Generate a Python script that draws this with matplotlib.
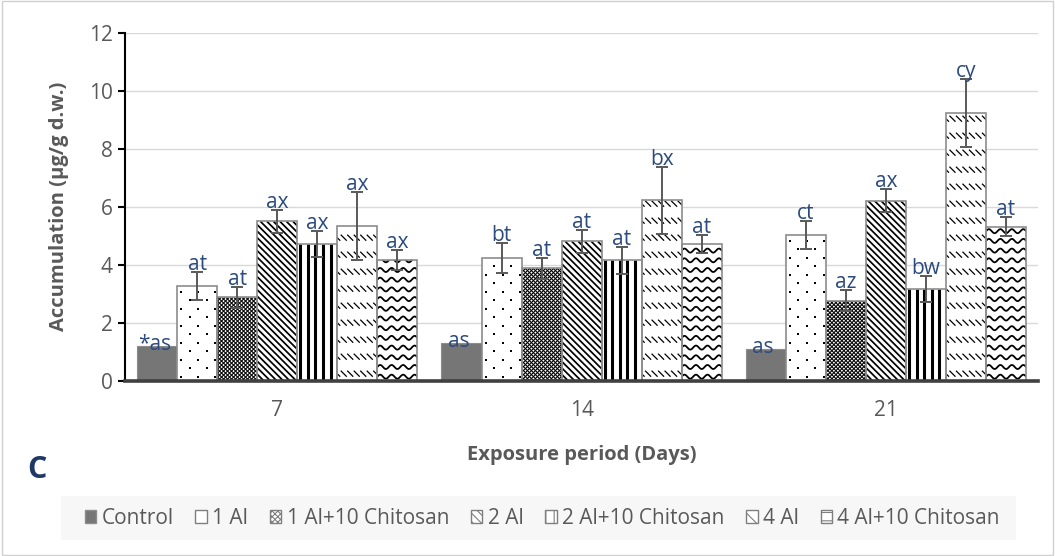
import numpy as np
import matplotlib
matplotlib.use('Agg')
import matplotlib.pyplot as plt
from matplotlib.patches import Rectangle, Patch
from matplotlib.collections import LineCollection
from matplotlib.transforms import IdentityTransform

plt.rcParams['font.family'] = ['Open Sans', 'DejaVu Sans']

# data
days = ['7', '14', '21']
groups = ['Control', '1 Al', '1 Al+10 Chitosan', '2 Al', '2 Al+10 Chitosan', '4 Al', '4 Al+10 Chitosan']

control = [1.21, 1.30, 1.11]
al1 = [3.26, 4.24, 5.03]
al1_chi = [2.87, 3.87, 2.76]
al2 = [5.49, 4.80, 6.21]
al2_chi = [4.71, 4.15, 3.16]
al4 = [5.34, 6.22, 9.22]
al4_chi = [4.16, 4.71, 5.31]

err_control = [0.0, 0.0, 0.0]
err_al1 = [0.48, 0.52, 0.49]
err_al1_chi = [0.35, 0.36, 0.37]
err_al2 = [0.41, 0.40, 0.41]
err_al2_chi = [0.46, 0.46, 0.45]
err_al4 = [1.17, 1.16, 1.17]
err_al4_chi = [0.34, 0.32, 0.33]

lab_control = ['*as', 'as', 'as']
lab_al1 = ['at', 'bt', 'ct']
lab_al1_chi = ['at', 'at', 'az']
lab_al2 = ['ax', 'at', 'ax']
lab_al2_chi = ['ax', 'at', 'bw']
lab_al4 = ['ax', 'bx', 'cy']
lab_al4_chi = ['ax', 'at', 'at']

values = [control, al1, al1_chi, al2, al2_chi, al4, al4_chi]
errors = [err_control, err_al1, err_al1_chi, err_al2, err_al2_chi, err_al4, err_al4_chi]
letters = [lab_control, lab_al1, lab_al1_chi, lab_al2, lab_al2_chi, lab_al4, lab_al4_chi]
textures = ['solid', 'dots', 'checker', 'diag', 'vert', 'dashdiag', 'wave']
legend_hatch = [None, None, 'xxxxxx', '\\\\\\\\', '||', '\\\\', '--']

grey = '#595959'
label_blue = '#2B4A7E'

fig = plt.figure(figsize=(10.55, 5.56), dpi=100)
fig.patches.append(Rectangle((0.002, 0.002), 0.996, 0.996, transform=fig.transFigure,
                             facecolor='none', edgecolor='#D0D0D0', lw=1.0))
fig.patches.append(Rectangle((0.0578, 0.029), 0.905, 0.079, transform=fig.transFigure,
                             facecolor='#F7F7F7', edgecolor='none'))
ax = fig.add_axes([0.1185, 0.3153, 0.8655, 0.6259])

x = np.arange(len(days))
width = 0.1315
ax.set_xlim(-0.5, 2.5)
ax.set_ylim(0, 12)


def px_box(bar):
    (x0, y0), (x1, y1) = ax.transData.transform(
        [(bar.get_x(), bar.get_y()),
         (bar.get_x() + bar.get_width(), bar.get_y() + bar.get_height())])
    return x0, y0, x1, y1


def add_lines(segs, bar, lw):
    lc = LineCollection(segs, colors='black', linewidths=lw,
                        transform=IdentityTransform(), zorder=2.1)
    ax.add_collection(lc, autolim=False)
    lc.set_clip_path(bar)


def diag_segs(x0, y0, x1, y1, step):
    segs = []
    for c in np.arange(x0 + y0, x1 + y1 + step, step):
        segs.append([(c - y0, y0), (c - y1, y1)])
    return segs


def texture(bar, kind):
    x0, y0, x1, y1 = px_box(bar)
    if kind == 'dots':
        pts = []
        for j, yy in enumerate(np.arange(y0 + 4, y1, 8.5)):
            off = 0 if j % 2 == 0 else 8.5
            for xx in np.arange(x0 + 4 + off, x1, 17):
                pts.append((xx, yy))
        pts = np.array(pts)
        sc = ax.scatter(pts[:, 0], pts[:, 1], s=3.5, marker='s', color='black',
                        linewidths=0, transform=IdentityTransform(), zorder=2.1)
        sc.set_clip_path(bar)
    elif kind == 'checker':
        segs = diag_segs(x0, y0, x1, y1, 4.0)
        for c in np.arange(x0 - y1, x1 - y0 + 4.0, 4.0):
            segs.append([(c + y0, y0), (c + y1, y1)])
        add_lines(segs, bar, 0.8)
    elif kind == 'diag':
        add_lines(diag_segs(x0, y0, x1, y1, 6.5), bar, 1.25)
    elif kind == 'vert':
        segs = [[(xx, y0), (xx, y1)] for xx in np.arange(x0 + 3, x1, 7.6)]
        add_lines(segs, bar, 2.2)
    elif kind == 'dashdiag':
        segs = []
        for yb in np.arange(y0 + 4, y1, 17):
            yt = min(yb + 6, y1)
            for c in np.arange(x0 + yb - 10, x1 + yt + 10, 6.5):
                segs.append([(c - yb, yb), (c - yt, yt)])
        add_lines(segs, bar, 0.9)
    elif kind == 'wave':
        xs = np.linspace(x0 - 2, x1 + 2, 200)
        segs = []
        for yy in np.arange(y0 + 4, y1 + 5, 9.7):
            segs.append(np.column_stack([xs, yy + 2.0 * np.sin(2 * np.pi * (xs - x0) / 11.5)]))
        add_lines(segs, bar, 1.3)


for i, (vals, errs, labs, kind) in enumerate(zip(values, errors, letters, textures)):
    pos = x + (i - 3) * width
    if kind == 'solid':
        bars = ax.bar(pos, vals, width, color='#767676', edgecolor='#8C8C8C', lw=0.8, zorder=2)
    else:
        bars = ax.bar(pos, vals, width, color='white', edgecolor='none', zorder=2)
        for b in bars:
            texture(b, kind)
        ax.bar(pos, vals, width, facecolor='none', edgecolor='#8C8C8C', lw=1.2, zorder=2.2)
        ax.errorbar(pos, vals, yerr=errs, fmt='none', ecolor=grey, elinewidth=1.4,
                    capsize=4.5, capthick=1.4, zorder=3)
    for p, v, e, t in zip(pos, vals, errs, labs):
        if kind == 'solid':
            ax.annotate(t, (p, v), xytext=(-2, -3), textcoords='offset points',
                        ha='center', va='baseline', color=label_blue, fontsize=15, zorder=4)
        else:
            ax.annotate(t, (p, v + e), xytext=(0, 1.5), textcoords='offset points',
                        ha='center', va='baseline', color=label_blue, fontsize=15, zorder=4)

ax.set_yticks(np.arange(0, 13, 2))
ax.set_xticks(x)
ax.set_xticklabels(days)
ax.grid(axis='y', color='#D9D9D9', lw=1.0, zorder=0)
ax.set_axisbelow(True)
for s in ['top', 'right']:
    ax.spines[s].set_visible(False)
ax.spines['left'].set_color('black')
ax.spines['left'].set_linewidth(1.5)
ax.spines['bottom'].set_color('#404040')
ax.spines['bottom'].set_linewidth(2.6)
ax.tick_params(axis='y', length=5, width=1.5, color='black', labelcolor=grey, labelsize=15, pad=4)
ax.tick_params(axis='x', length=0, labelcolor=grey, labelsize=15, pad=14)
ax.set_xlabel('Exposure period (Days)', fontsize=14.5, fontweight='bold', color=grey, labelpad=17)
ax.set_ylabel('Accumulation (µg/g d.w.)', fontsize=14.5, fontweight='bold', color=grey, labelpad=14)

fig.text(0.026, 0.128, 'C', fontsize=22, fontweight='bold', color='#1F3864', va='bottom')

handles = []
for name, kind, h in zip(groups, textures, legend_hatch):
    if kind == 'solid':
        handles.append(Patch(facecolor='#767676', edgecolor='#8C8C8C', label=name))
    else:
        handles.append(Patch(facecolor='white', edgecolor='#7F7F7F', hatch=h, label=name))
plt.rcParams['hatch.linewidth'] = 0.8
fig.legend(handles=handles, loc='center', bbox_to_anchor=(0.514, 0.068), ncol=7, frameon=False,
           fontsize=15, handlelength=0.55, handleheight=0.55, handletextpad=0.25,
           columnspacing=1.05, labelcolor=grey)

fig.savefig('out.png', dpi=100)
